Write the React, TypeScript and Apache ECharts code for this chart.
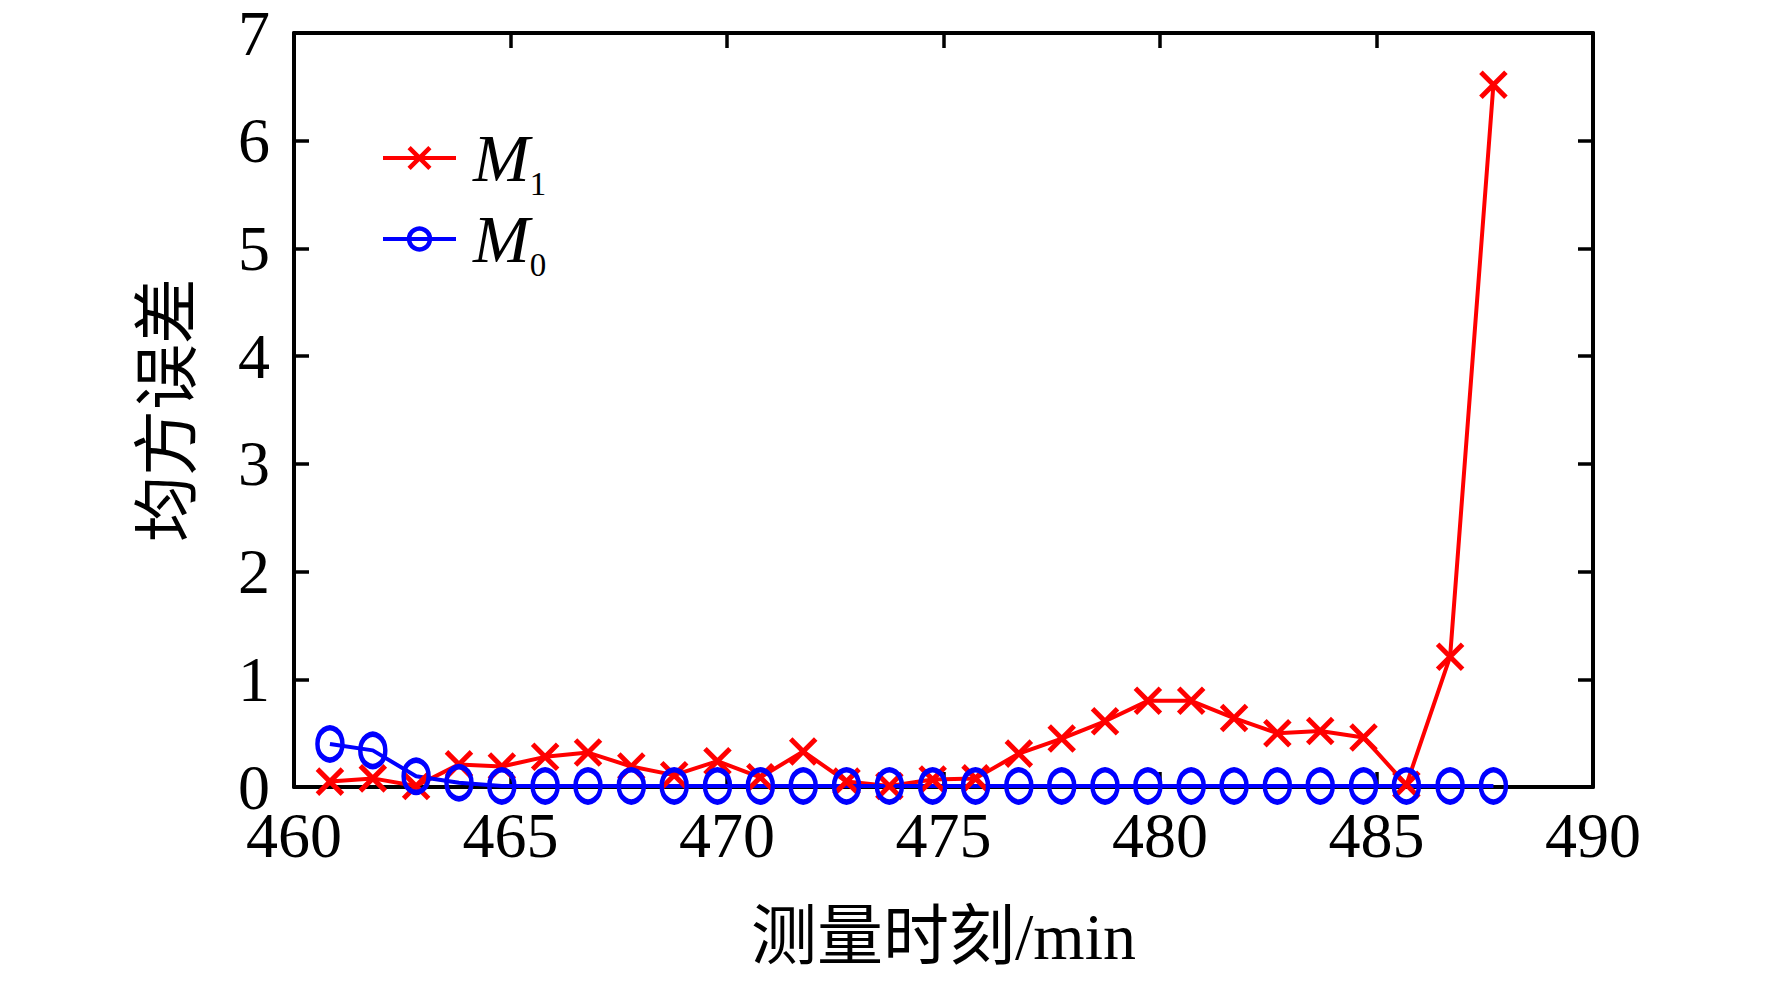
import { useEffect, useRef } from 'react';
import * as echarts from 'echarts';

const times = [
  460.83, 461.82, 462.82, 463.81, 464.8, 465.8, 466.79, 467.79, 468.78, 469.78,
  470.77, 471.76, 472.76, 473.75, 474.75, 475.74, 476.74, 477.73, 478.73, 479.72,
  480.72, 481.71, 482.71, 483.7, 484.7, 485.69, 486.7, 487.7,
];
const m1Values = [
  0.05, 0.08, 0.01, 0.21, 0.19, 0.28, 0.32, 0.19, 0.11, 0.24, 0.09, 0.33, 0.05, 0.01,
  0.07, 0.08, 0.31, 0.45, 0.61, 0.8, 0.8, 0.64, 0.5, 0.52, 0.46, 0.02, 1.21, 6.52,
];
const m0Values = [
  0.4, 0.34, 0.1, 0.04, 0.01, 0.01, 0.01, 0.01, 0.01, 0.01, 0.01, 0.01, 0.01, 0.01,
  0.01, 0.01, 0.01, 0.01, 0.01, 0.01, 0.01, 0.01, 0.01, 0.01, 0.01, 0.01, 0.01, 0.01,
];
const xTicks = { min: 460, max: 490, interval: 5 };
const yTicks = { min: 0, max: 7, interval: 1 };

const FONT = "'Liberation Serif', 'Times New Roman', 'Noto Sans CJK SC', serif";
const CROSS = 'path://M0,0L10,10M10,0L0,10';

export default function App() {
  const chartRef = useRef<HTMLDivElement>(null);

  useEffect(() => {
    if (!chartRef.current) return;
    document.body.style.margin = '0';
    const chart = echarts.init(chartRef.current, undefined, { renderer: 'svg' });

    const axisLine = { show: true, onZero: false, lineStyle: { color: '#000', width: 4 } };
    const axisTick = { show: true, inside: true, length: 15, lineStyle: { color: '#000', width: 3.5 } };
    const label = { color: '#000', fontSize: 64, fontFamily: FONT };

    const option: echarts.EChartsOption = {
      animation: false,
      backgroundColor: '#fff',
      grid: { left: 294, right: 179, top: 33, bottom: 195 },
      legend: {
        orient: 'vertical',
        left: 376,
        top: 119,
        itemWidth: 73,
        itemHeight: 26,
        itemGap: 5,
        selectedMode: false,
        itemStyle: { borderWidth: 4.5 },
        lineStyle: { width: 4 },
        formatter: (name: string) => `{i|M}{s|${name.slice(1)}}`,
        textStyle: {
          rich: {
            i: {
              fontSize: 68, lineHeight: 84, verticalAlign: 'middle', fontStyle: 'italic',
              fontFamily: FONT, color: '#000', padding: [0, 0, 0, 12],
            },
            s: { fontSize: 33, verticalAlign: 'bottom', fontFamily: FONT, color: '#000' },
          },
        },
        data: ['M1', 'M0'],
      },
      xAxis: [
        {
          type: 'value',
          position: 'bottom',
          ...xTicks,
          axisLine,
          axisTick,
          splitLine: { show: false },
          axisLabel: { ...label, margin: 16 },
          name: '测量时刻/min',
          nameLocation: 'middle',
          nameGap: 116,
          nameTextStyle: { ...label, fontSize: 66 },
        },
        {
          type: 'value',
          position: 'top',
          ...xTicks,
          axisLine,
          axisTick,
          splitLine: { show: false },
          axisLabel: { show: false },
        },
      ],
      yAxis: [
        {
          type: 'value',
          position: 'left',
          ...yTicks,
          axisLine,
          axisTick,
          splitLine: { show: false },
          axisLabel: { ...label, margin: 24 },
          name: '均方误差',
          nameLocation: 'middle',
          nameGap: 94,
          nameRotate: 90,
          nameTextStyle: { ...label, fontSize: 66 },
        },
        {
          type: 'value',
          position: 'right',
          ...yTicks,
          axisLine,
          axisTick,
          splitLine: { show: false },
          axisLabel: { show: false },
        },
      ],
      series: [
        {
          name: 'M1',
          type: 'line',
          data: times.map((t, i) => [t, m1Values[i]]),
          symbol: CROSS,
          symbolSize: 25,
          lineStyle: { color: '#ff0000', width: 4 },
          itemStyle: { color: '#ff0000', borderColor: '#ff0000', borderWidth: 5 },
        },
        {
          name: 'M0',
          type: 'line',
          data: times.map((t, i) => [t, m0Values[i]]),
          symbol: 'circle',
          symbolSize: [25, 32],
          lineStyle: { color: '#0000ff', width: 4 },
          itemStyle: { color: 'rgba(0,0,0,0)', borderColor: '#0000ff', borderWidth: 5 },
        },
      ],
    };

    chart.setOption(option);
    return () => chart.dispose();
  }, []);

  return <div ref={chartRef} style={{ width: 1772, height: 982 }} />;
}
